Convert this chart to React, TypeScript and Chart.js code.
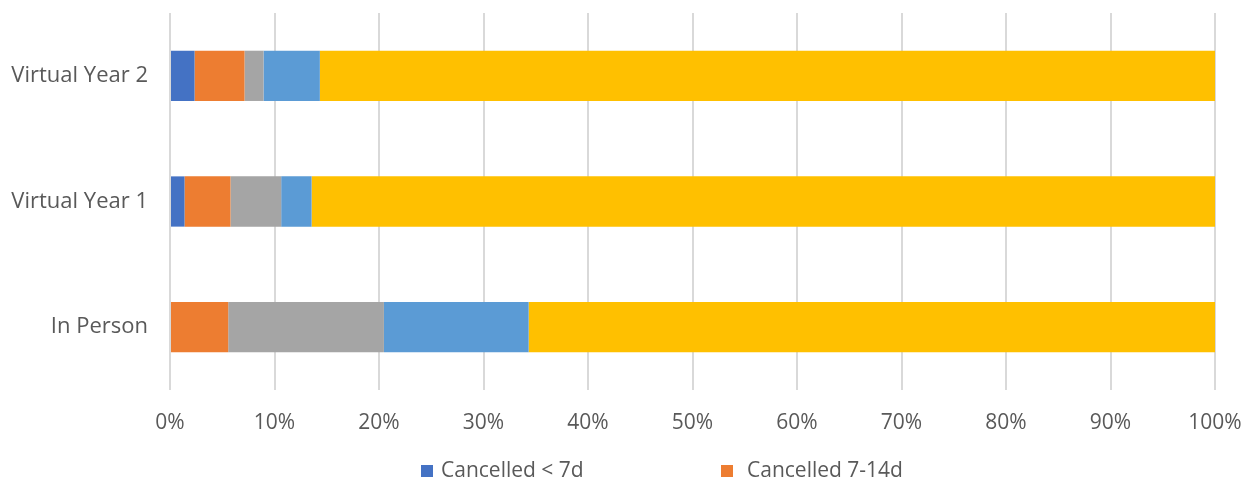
import React, { useEffect, useRef } from "react";
import { Chart, registerables } from "chart.js";

Chart.register(...registerables);

const categories = ["Virtual Year 2", "Virtual Year 1", "In Person"];
const seriesNames = [
  "Cancelled < 7d",
  "Cancelled 7-14d",
  "Cancelled 15-30d",
  "Cancelled > 30d",
  "Attended",
];
const cancelledUnder7d = [2.35, 1.39, 0];
const cancelled7to14d = [4.78, 4.4, 5.57];
const cancelled15to30d = [1.82, 4.85, 14.9];
const cancelledOver30d = [5.39, 2.91, 13.85];
const attended = [85.66, 86.45, 65.68];
const legendShown = [0, 1];

const seriesColors = ["#4472C4", "#ED7D31", "#A5A5A5", "#5B9BD5", "#FFC000"];
const FONT = "'Open Sans', sans-serif";
const TEXT = "#595959";

const legendBoxX = [421, 721];
const legendTextX = [441, 747];

const legendPlugin = {
  id: "excelLegend",
  afterDraw(chart: any) {
    const ctx = chart.ctx;
    ctx.save();
    ctx.font = `21px ${FONT}`;
    ctx.textBaseline = "middle";
    const y = 471;
    legendShown.forEach((di, i) => {
      ctx.fillStyle = chart.data.datasets[di].backgroundColor;
      ctx.fillRect(legendBoxX[i], y - 6, 12, 12);
      ctx.fillStyle = TEXT;
      ctx.textAlign = "left";
      ctx.fillText(chart.data.datasets[di].label, legendTextX[i], y);
    });
    ctx.restore();
  },
};

const zeroPadding = (s: any) => {
  s.paddingTop = 0;
  s.paddingBottom = 0;
  s.paddingLeft = 0;
  s.paddingRight = 0;
};

export default function App() {
  const ref = useRef<HTMLCanvasElement>(null);
  useEffect(() => {
    if (!ref.current) return;
    const values = [cancelledUnder7d, cancelled7to14d, cancelled15to30d, cancelledOver30d, attended];
    const chart = new Chart(ref.current, {
      type: "bar",
      data: {
        labels: categories,
        datasets: values.map((v, i) => ({
          label: seriesNames[i],
          data: v,
          backgroundColor: seriesColors[i],
          borderWidth: 0,
          categoryPercentage: 1,
          barPercentage: 0.4,
        })),
      },
      options: {
        indexAxis: "y",
        animation: false,
        responsive: true,
        maintainAspectRatio: false,
        layout: { padding: { top: 13, right: 31, bottom: 0, left: 0 } },
        plugins: {
          legend: { display: false },
          tooltip: { enabled: false },
        },
        scales: {
          x: {
            stacked: true,
            min: 0,
            max: 100,
            ticks: {
              stepSize: 10,
              padding: 20,
              color: TEXT,
              font: { family: FONT, size: 21 },
              callback: (v: any) => `${v}%`,
            },
            grid: { color: "#d9d9d9", lineWidth: 2, drawTicks: false },
            border: { display: false },
            afterFit: (s: any) => {
              s.height = 91;
              zeroPadding(s);
            },
          },
          y: {
            stacked: true,
            ticks: {
              padding: 22,
              color: TEXT,
              font: { family: FONT, size: 22 },
            },
            grid: { display: false, drawTicks: false },
            border: { display: false },
            afterFit: (s: any) => {
              s.width = 170;
              zeroPadding(s);
            },
          },
        },
      },
      plugins: [legendPlugin],
    });
    return () => chart.destroy();
  }, []);
  return (
    <div style={{ position: "fixed", left: 0, top: 0, width: 1246, height: 481, background: "#fff" }}>
      <canvas ref={ref} />
    </div>
  );
}
